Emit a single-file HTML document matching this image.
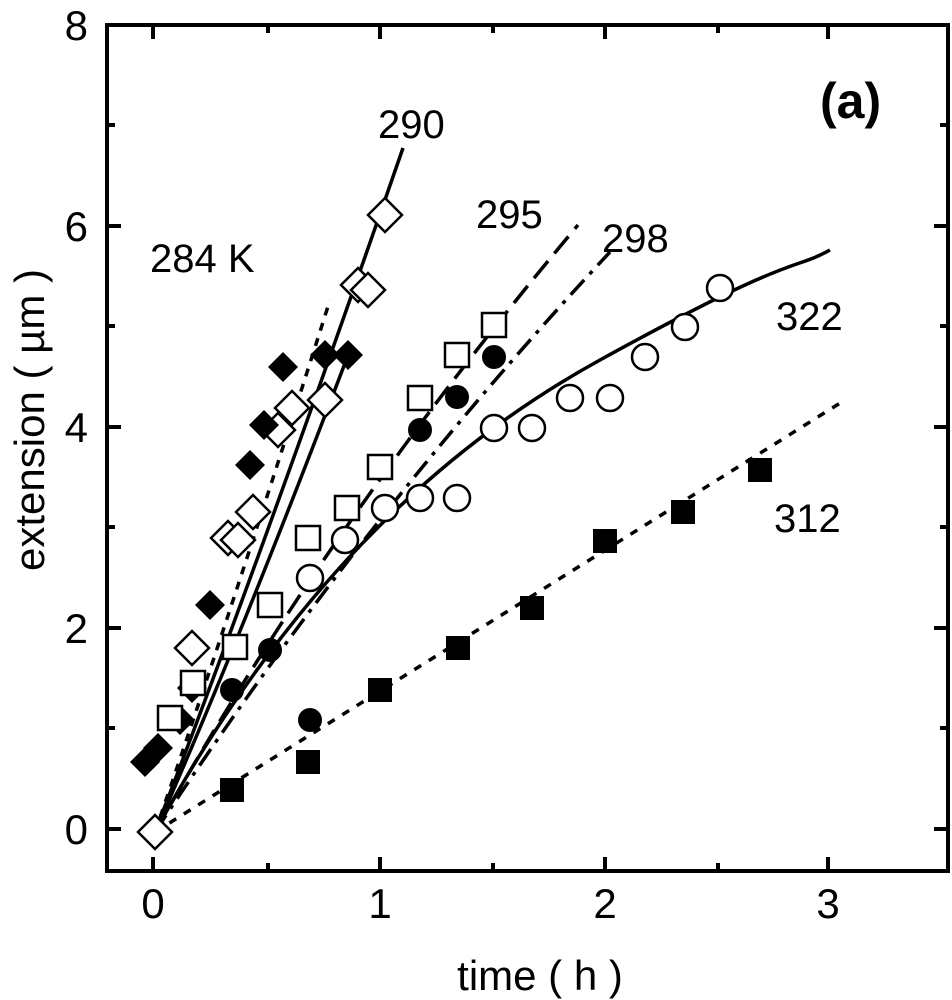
<!DOCTYPE html><html><head><style>body{margin:0;background:#fff}svg{display:block}text{font-family:"Liberation Sans",sans-serif;fill:#000}</style></head><body>
<svg width="952" height="1000" viewBox="0 0 952 1000">
<defs>
<path id="od" d="M0 -17L17 0L0 17L-17 0Z" fill="#fff" stroke="#000" stroke-width="2.5"/>
<path id="fd" d="M0 -15L15 0L0 15L-15 0Z" fill="#000"/>
<rect id="os" x="-12" y="-12" width="24" height="24" fill="#fff" stroke="#000" stroke-width="2.5"/>
<rect id="fs" x="-12" y="-12" width="24" height="24" fill="#000"/>
<circle id="oc" r="13" fill="#fff" stroke="#000" stroke-width="2.5"/>
<circle id="fc" r="12" fill="#000"/>
</defs>
<g stroke="#000" stroke-width="4" fill="none">
<path d="M107 25H948V871H107Z"/>
<path d="M153 871v-14M268 871v-8M380 871v-14M493 871v-8M605 871v-14M718 871v-8M828 871v-14M153 25v14M268 25v8M380 25v14M493 25v8M605 25v14M718 25v8M828 25v14"/>
<path d="M107 829h14M107 728h8M107 628h14M107 527h8M107 427h14M107 326h8M107 226h14M107 125h8M948 829h-14M948 728h-8M948 628h-14M948 527h-8M948 427h-14M948 326h-8M948 226h-14M948 125h-8"/>
</g>
<g font-size="42" text-anchor="middle">
<text x="153" y="918">0</text><text x="380" y="918">1</text><text x="605" y="918">2</text><text x="828" y="918">3</text>
<text x="88" y="844" text-anchor="end">0</text><text x="88" y="643" text-anchor="end">2</text><text x="88" y="442" text-anchor="end">4</text><text x="88" y="241" text-anchor="end">6</text><text x="88" y="40" text-anchor="end">8</text>
<text x="540" y="990">time ( h )</text>
<text transform="translate(44,420) rotate(-90)">extension ( µm )</text>
</g>
<g font-size="40">
<text x="150" y="272">284 K</text><text x="378" y="138">290</text><text x="476" y="228">295</text><text x="602" y="252">298</text><text x="776" y="330">322</text><text x="774" y="532">312</text>
<text x="820" y="118" font-size="50" font-weight="bold">(a)</text>
</g>
<g fill="none" stroke="#000" stroke-width="3.5">
<path d="M155 832Q260 560 403 148"/>
<path d="M155 832Q235 600 330 300" stroke-dasharray="8 8"/>
<path d="M155 832Q240 640 350 350"/>
<path d="M155 832Q330 520 578 225" stroke-dasharray="22 10"/>
<path d="M155 832Q360 520 610 252" stroke-dasharray="20 8 4 8"/>
<path d="M155 832C260 640 400 470 600 360S790 272 830 250"/>
<path d="M155 832L845 400" stroke-dasharray="8 9"/>
</g>
<use href="#od" x="155" y="832"/><use href="#od" x="192" y="648"/><use href="#od" x="228" y="538"/><use href="#od" x="238" y="540"/><use href="#od" x="253" y="512"/><use href="#od" x="278" y="430"/><use href="#od" x="292" y="408"/><use href="#od" x="325" y="400"/><use href="#od" x="358" y="285"/><use href="#od" x="368" y="290"/><use href="#od" x="385" y="215"/>
<use href="#fd" x="145" y="762"/><use href="#fd" x="158" y="748"/><use href="#fd" x="180" y="720"/><use href="#fd" x="192" y="688"/><use href="#fd" x="210" y="605"/><use href="#fd" x="250" y="465"/><use href="#fd" x="264" y="425"/><use href="#fd" x="283" y="367"/><use href="#fd" x="325" y="355"/><use href="#fd" x="348" y="355"/>
<use href="#os" x="170" y="718"/><use href="#os" x="193" y="683"/><use href="#os" x="235" y="647"/><use href="#os" x="270" y="605"/><use href="#os" x="308" y="538"/><use href="#os" x="347" y="508"/><use href="#os" x="380" y="467"/><use href="#os" x="420" y="398"/><use href="#os" x="457" y="355"/><use href="#os" x="494" y="325"/>
<use href="#oc" x="310" y="578"/><use href="#oc" x="345" y="540"/><use href="#oc" x="385" y="508"/><use href="#oc" x="420" y="498"/><use href="#oc" x="457" y="498"/><use href="#oc" x="494" y="428"/><use href="#oc" x="532" y="428"/><use href="#oc" x="570" y="398"/><use href="#oc" x="610" y="398"/><use href="#oc" x="645" y="357"/><use href="#oc" x="685" y="327"/><use href="#oc" x="720" y="288"/>
<use href="#fc" x="232" y="690"/><use href="#fc" x="270" y="650"/><use href="#fc" x="310" y="720"/><use href="#fc" x="420" y="430"/><use href="#fc" x="457" y="397"/><use href="#fc" x="494" y="357"/>
<use href="#fs" x="232" y="790"/><use href="#fs" x="308" y="762"/><use href="#fs" x="380" y="690"/><use href="#fs" x="458" y="648"/><use href="#fs" x="532" y="608"/><use href="#fs" x="605" y="541"/><use href="#fs" x="683" y="512"/><use href="#fs" x="760" y="470"/>
</svg></body></html>
